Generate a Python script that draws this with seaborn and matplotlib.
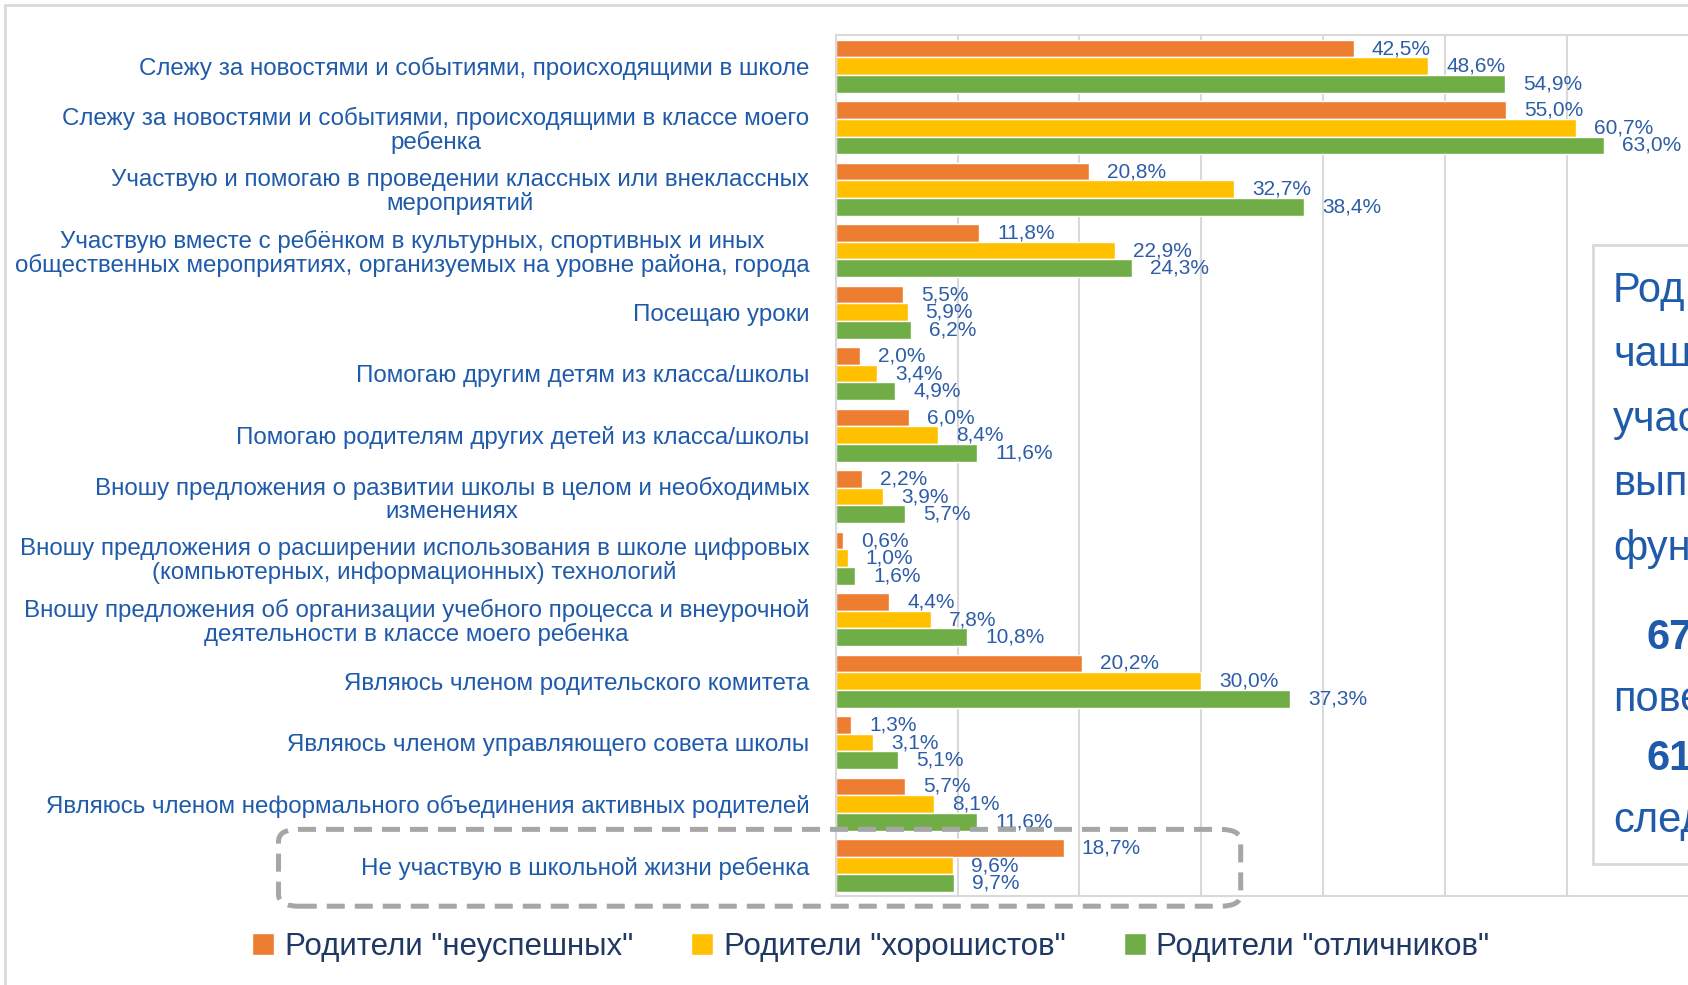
import matplotlib
matplotlib.use('Agg')
import numpy as np
import pandas as pd
import matplotlib.pyplot as plt
import seaborn as sns
from matplotlib.patches import FancyBboxPatch, Rectangle

# данные
categories = [
    "Слежу за новостями и событиями, происходящими в школе",
    "Слежу за новостями и событиями, происходящими в классе моего\nребенка",
    "Участвую и помогаю в проведении классных или внеклассных\nмероприятий",
    "Участвую вместе с ребёнком в культурных, спортивных и иных\nобщественных мероприятиях, организуемых на уровне района, города",
    "Посещаю уроки",
    "Помогаю другим детям из класса/школы",
    "Помогаю родителям других детей из класса/школы",
    "Вношу предложения о развитии школы в целом и необходимых\nизменениях",
    "Вношу предложения о расширении использования в школе цифровых\n(компьютерных, информационных) технологий",
    "Вношу предложения об организации учебного процесса и внеурочной\nдеятельности в классе моего ребенка",
    "Являюсь членом родительского комитета",
    "Являюсь членом управляющего совета школы",
    "Являюсь членом неформального объединения активных родителей",
    "Не участвую в школьной жизни ребенка",
]
unsuccessful = [42.5, 55.0, 20.8, 11.8, 5.5, 2.0, 6.0, 2.2, 0.6, 4.4, 20.2, 1.3, 5.7, 18.7]
good = [48.6, 60.7, 32.7, 22.9, 5.9, 3.4, 8.4, 3.9, 1.0, 7.8, 30.0, 3.1, 8.1, 9.6]
excellent = [54.9, 63.0, 38.4, 24.3, 6.2, 4.9, 11.6, 5.7, 1.6, 10.8, 37.3, 5.1, 11.6, 9.7]
groups = ['Родители "неуспешных"', 'Родители "хорошистов"', 'Родители "отличников"']
colors = ['#ED7D31', '#FFC000', '#70AD47']
side_lines = ['Род', 'чаш', 'учас', 'вып', 'фун', '67', 'пове', '61', 'след']

df = pd.DataFrame({
    'cat': categories * 3,
    'val': unsuccessful + good + excellent,
    'group': np.repeat(groups, len(categories)),
})

sns.set_style('white')
plt.rcParams['font.family'] = ['Liberation Sans', 'DejaVu Sans']

LABEL_BLUE = '#1F5BAA'
NAVY = '#1F3864'
GRID = '#D9D9D9'

fig = plt.figure(figsize=(16.88, 9.85), dpi=100)
ax = fig.add_axes([0.495, 0.090, 0.505, 0.874])
sns.barplot(data=df, y='cat', x='val', hue='group', palette=colors, orient='h',
            width=0.86, errorbar=None, saturation=1, ax=ax)

for cont, vals in zip(ax.containers, [unsuccessful, good, excellent]):
    ax.bar_label(cont, labels=[f"{v:.1f}%".replace('.', ',') for v in vals],
                 padding=13, color='#2E5DA8', fontsize=15)

ax.set_xlim(0, 69.9)
ax.set_xticks(np.arange(0, 70, 10))
ax.set_xticklabels([])
ax.set_xlabel('')
ax.set_ylabel('')
ax.grid(True, axis='x', color=GRID, linewidth=1.5)
ax.set_axisbelow(True)
for s in ax.spines.values():
    s.set_color(GRID)
    s.set_linewidth(1.5)
ax.spines['right'].set_visible(False)
ax.tick_params(axis='both', length=0)
ax.tick_params(axis='y', pad=19, labelcolor=LABEL_BLUE)
for t in ax.get_yticklabels():
    t.set_multialignment('center')
    t.set_linespacing(1.05)
    t.set_fontsize(17.4)

h, l = ax.get_legend_handles_labels()
ax.get_legend().remove()
fig.legend(h, l, loc='center', bbox_to_anchor=(0.516, 0.0386), ncol=3, frameon=False,
           fontsize=22.5, handlelength=0.7, handleheight=0.7, handletextpad=0.35,
           columnspacing=1.85, labelcolor=NAVY)

# рамка слайда
fig.patches.append(Rectangle((5 / 1688, -0.1), 1.2, 1.1 - 5 / 985, transform=fig.transFigure,
                             fill=False, edgecolor=GRID, linewidth=2))

# пунктирная рамка вокруг последней категории
fig.patches.append(FancyBboxPatch((0.165, 0.080), 0.570, 0.078,
                                  boxstyle='round,pad=0,rounding_size=0.012',
                                  transform=fig.transFigure, fill=False,
                                  edgecolor='#A6A6A6', linewidth=3.6,
                                  linestyle=(0, (3.6, 2)), zorder=10))

# текстовый блок справа
fig.patches.append(Rectangle((1593 / 1688, 0.123), 0.2, 0.628, transform=fig.transFigure,
                             facecolor='white', edgecolor=GRID, linewidth=2, zorder=5))
ys = [291, 355, 420, 484, 549, 638, 700, 759, 821]
for txt, y in zip(side_lines, ys):
    bold = txt.isdigit()
    x = 1647 if bold else 1613
    fig.text(x / 1688, 1 - y / 985, txt, fontsize=30, color='#1F5BAA',
             fontweight='bold' if bold else 'normal', va='center', ha='left', zorder=6)

fig.savefig('out.png', dpi=100, facecolor='white')
